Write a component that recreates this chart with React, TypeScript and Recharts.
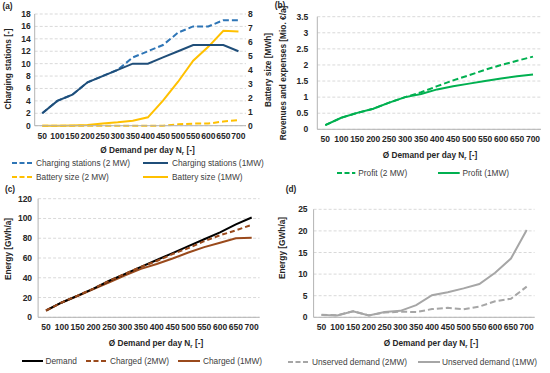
import React from 'react';
import { LineChart, Line, XAxis, YAxis, CartesianGrid } from 'recharts';

const demandPerDay = [50, 100, 150, 200, 250, 300, 350, 400, 450, 500, 550, 600, 650, 700];

const chargingStations2MW = [2, 4, 5, 7, 8, 9, 11, 12, 13, 15, 16, 16, 17, 17];
const chargingStations1MW = [2, 4, 5, 7, 8, 9, 10, 10, 11, 12, 13, 13, 13, 12];
const batterySize2MW = [0, 0, 0, 0, 0, 0, 0, 0, 0, 0.1, 0.15, 0.15, 0.3, 0.4];
const batterySize1MW = [0, 0, 0.02, 0.05, 0.15, 0.24, 0.36, 0.6, 1.8, 3.15, 4.65, 5.65, 6.8, 6.75];

const profit2MW = [0.13, 0.36, 0.51, 0.64, 0.83, 1.0, 1.15, 1.34, 1.52, 1.68, 1.85, 2.0, 2.13, 2.26];
const profit1MW = [0.13, 0.36, 0.51, 0.64, 0.83, 1.0, 1.1, 1.24, 1.34, 1.42, 1.5, 1.58, 1.65, 1.7];

const energyDemand = [7, 15, 22, 29, 37, 44, 51, 58, 65, 72, 79, 86, 94, 101];
const charged2MW = [7, 15, 22, 29, 37, 44, 51, 57, 64, 70, 77, 83, 88, 93.5];
const charged1MW = [6.5, 15, 21.5, 28.5, 35.5, 42.5, 49, 54, 59.5, 65.5, 71, 75.5, 80, 80.5];

const unserved2MW = [0.6, 0.45, 1.4, 0.45, 1.1, 1.3, 1.2, 1.9, 2.2, 1.85, 2.5, 3.7, 4.3, 7.1];
const unserved1MW = [0.55, 0.4, 1.4, 0.4, 1.2, 1.5, 2.8, 5.1, 5.8, 6.7, 7.7, 10.3, 13.6, 20.2];

const ticksA = [0, 2, 4, 6, 8, 10, 12, 14, 16, 18];
const ticksARight = [0, 1, 2, 3, 4, 5, 6, 7, 8];
const ticksB = [0, 0.5, 1, 1.5, 2, 2.5, 3, 3.5];
const ticksC = [0, 20, 40, 60, 80, 100, 120];
const ticksD = [0, 5, 10, 15, 20, 25];
const boundaryTicks = [0, 1, 2, 3, 4, 5, 6, 7, 8, 9, 10, 11, 12, 13, 14];

const dataA = demandPerDay.map((d, i) => ({ d, cs2: chargingStations2MW[i], cs1: chargingStations1MW[i], b2: batterySize2MW[i], b1: batterySize1MW[i] }));
const dataB = demandPerDay.map((d, i) => ({ d, p2: profit2MW[i], p1: profit1MW[i] }));
const dataC = demandPerDay.map((d, i) => ({ d, dem: energyDemand[i], c2: charged2MW[i], c1: charged1MW[i] }));
const dataD = demandPerDay.map((d, i) => ({ d, u2: unserved2MW[i], u1: unserved1MW[i] }));

const FONT = '"Liberation Sans", Arial, sans-serif';
const AXIS = '#b3b3b3';
const GRID = '#d9d9d9';
const tickStyle = { fontSize: 8.5, fontWeight: 700, fill: '#262626', fontFamily: FONT };

const fmt = (v: number) => String(v);

type BoxProps = { x: number; y: number; rotate?: boolean; children: React.ReactNode; bold?: boolean; color?: string; size?: number };
const Label = ({ x, y, rotate, children, bold = true, color = '#262626', size = 8.3 }: BoxProps) => (
  <div
    style={{
      position: 'absolute',
      left: x,
      top: y,
      transform: `translate(-50%, -50%)${rotate ? ' rotate(-90deg)' : ''}`,
      whiteSpace: 'nowrap',
      fontFamily: FONT,
      fontWeight: bold ? 700 : 400,
      fontSize: size,
      lineHeight: 1,
      color,
    }}
  >
    {children}
  </div>
);

const XTitle = ({ x, y }: { x: number; y: number }) => (
  <Label x={x} y={y}>
    Ø Demand per day N<span style={{ fontSize: '70%', position: 'relative', top: 2 }}>r</span> [-]
  </Label>
);

type LegProps = { x1: number; x2: number; tx: number; y: number; color: string; dash?: string; label: string };
const Leg = ({ x1, x2, tx, y, color, dash, label }: LegProps) => (
  <>
    <svg style={{ position: 'absolute', left: x1, top: y - 2, overflow: 'visible' }} width={x2 - x1} height={4}>
      <line x1={0} y1={2} x2={x2 - x1} y2={2} stroke={color} strokeWidth={2} strokeDasharray={dash} />
    </svg>
    <div
      style={{
        position: 'absolute',
        left: tx,
        top: y,
        transform: 'translateY(-50%)',
        fontFamily: FONT,
        fontSize: 8.3,
        lineHeight: 1,
        color: '#404040',
        whiteSpace: 'nowrap',
      }}
    >
      {label}
    </div>
  </>
);

const BoundaryAxis = () => null;

function catPad(plotWidth: number) {
  const p = plotWidth / 28;
  return { left: p, right: p };
}

export default function App() {
  const blueLight = '#2E75B6';
  const blueDark = '#1F4E79';
  const gold = '#FFC000';
  const green = '#00B050';
  const brown = '#9A4A1C';
  const gray = '#A6A6A6';

  return (
    <div style={{ position: 'absolute', left: 0, top: 0, width: 550, height: 373, background: '#fff', overflow: 'hidden' }}>
      {/* Panel A */}
      <div style={{ position: 'absolute', left: 0, top: 0 }}>
        <LineChart width={275} height={190} data={dataA} margin={{ top: 14, right: 0, bottom: 44.3, left: 0 }}>
          <CartesianGrid vertical={false} stroke={GRID} strokeDasharray="3 2" />
          <XAxis xAxisId="tk" type="number" domain={[0, 14]} allowDataOverflow ticks={boundaryTicks} tick={false} axisLine={false} tickSize={3} stroke={AXIS} height={0} />
          <XAxis dataKey="d" height={20} tickLine={false} tickSize={0} tickMargin={7} interval={0} stroke={AXIS} tick={tickStyle} padding={catPad(211.3)} />
          <YAxis width={34.7} domain={[0, 18]} ticks={ticksA} tickLine={false} tickSize={0} tickMargin={4} stroke={AXIS} tick={tickStyle} interval={0} />
          <YAxis yAxisId="r" orientation="right" width={29} domain={[0, 8]} ticks={ticksARight} tickLine={false} axisLine={false} tickSize={0} tickMargin={2} tick={tickStyle} interval={0} />
          <Line dataKey="b2" yAxisId="r" stroke={gold} strokeWidth={2} strokeDasharray="6 3" dot={false} isAnimationActive={false} />
          <Line dataKey="b1" yAxisId="r" stroke={gold} strokeWidth={2} dot={false} isAnimationActive={false} />
          <Line dataKey="cs2" stroke={blueLight} strokeWidth={2} strokeDasharray="6 3" dot={false} isAnimationActive={false} />
          <Line dataKey="cs1" stroke={blueDark} strokeWidth={2} dot={false} isAnimationActive={false} />
        </LineChart>
      </div>

      {/* Panel B */}
      <div style={{ position: 'absolute', left: 275, top: 0 }}>
        <LineChart width={275} height={190} data={dataB} margin={{ top: 16.7, right: 9, bottom: 40.7, left: 0 }}>
          <CartesianGrid vertical={false} stroke={GRID} strokeDasharray="3 2" />
          <XAxis xAxisId="tk" type="number" domain={[0, 14]} allowDataOverflow ticks={boundaryTicks} tick={false} axisLine={false} tickSize={3} stroke={AXIS} height={0} />
          <XAxis dataKey="d" height={20} tickLine={false} tickSize={0} tickMargin={7} interval={0} stroke={AXIS} tick={tickStyle} padding={catPad(223.7)} />
          <YAxis width={42.3} domain={[0, 3.5]} ticks={ticksB} tickFormatter={fmt} tickLine={false} tickSize={0} tickMargin={9} stroke={AXIS} tick={tickStyle} interval={0} />
          <Line dataKey="p2" stroke={green} strokeWidth={2} strokeDasharray="6 3" dot={false} isAnimationActive={false} />
          <Line dataKey="p1" stroke={green} strokeWidth={2} dot={false} isAnimationActive={false} />
        </LineChart>
      </div>

      {/* Panel C */}
      <div style={{ position: 'absolute', left: 0, top: 180 }}>
        <LineChart width={275} height={193} data={dataC} margin={{ top: 18.7, right: 15.4, bottom: 35.7, left: 0 }}>
          <CartesianGrid vertical={false} stroke={GRID} strokeDasharray="3 2" />
          <XAxis xAxisId="tk" type="number" domain={[0, 14]} allowDataOverflow ticks={boundaryTicks} tick={false} axisLine={false} tickSize={3} stroke={AXIS} height={0} />
          <XAxis dataKey="d" height={20} tickLine={false} tickSize={0} tickMargin={7} interval={0} stroke={AXIS} tick={tickStyle} padding={catPad(221.5)} />
          <YAxis width={38.1} domain={[0, 120]} ticks={ticksC} tickLine={false} tickSize={0} tickMargin={6} stroke={AXIS} tick={tickStyle} interval={0} />
          <Line dataKey="c1" stroke={brown} strokeWidth={2} dot={false} isAnimationActive={false} />
          <Line dataKey="dem" stroke="#000000" strokeWidth={2} dot={false} isAnimationActive={false} />
          <Line dataKey="c2" stroke={brown} strokeWidth={2} strokeDasharray="5 3" dot={false} isAnimationActive={false} />
        </LineChart>
      </div>

      {/* Panel D */}
      <div style={{ position: 'absolute', left: 275, top: 180 }}>
        <LineChart width={275} height={193} data={dataD} margin={{ top: 29.3, right: 15.4, bottom: 35.7, left: 0 }}>
          <CartesianGrid vertical={false} stroke={GRID} strokeDasharray="3 2" />
          <XAxis xAxisId="tk" type="number" domain={[0, 14]} allowDataOverflow ticks={boundaryTicks} tick={false} axisLine={false} tickSize={3} stroke={AXIS} height={0} />
          <XAxis dataKey="d" height={20} tickLine={false} tickSize={0} tickMargin={7} interval={0} stroke={AXIS} tick={tickStyle} padding={catPad(221)} />
          <YAxis width={38.6} domain={[0, 25]} ticks={ticksD} tickLine={false} tickSize={0} tickMargin={6} stroke={AXIS} tick={tickStyle} interval={0} />
          <Line dataKey="u2" stroke={gray} strokeWidth={2} strokeDasharray="6 3" dot={false} isAnimationActive={false} />
          <Line dataKey="u1" stroke={gray} strokeWidth={2} dot={false} isAnimationActive={false} />
        </LineChart>
      </div>

      {/* Panel labels */}
      <Label x={7.5} y={6}>(a)</Label>
      <Label x={280} y={5}>(b)</Label>
      <Label x={10} y={189}>(c)</Label>
      <Label x={291} y={189}>(d)</Label>

      {/* Axis titles */}
      <Label x={7.5} y={69} rotate>Charging stations [-]</Label>
      <Label x={268} y={70} rotate>Battery size [MWh]</Label>
      <Label x={283} y={73} rotate>Revenues and expenses [Mio. €/a]</Label>
      <Label x={7.5} y={249} rotate>Energy [GWh/a]</Label>
      <Label x={282} y={248} rotate>Energy [GWh/a]</Label>

      <XTitle x={147.5} y={150} />
      <XTitle x={430} y={155} />
      <XTitle x={156} y={342.7} />
      <XTitle x={431} y={342.7} />

      {/* Legends */}
      <Leg x1={11.7} x2={31.7} tx={36} y={163.3} color={blueLight} dash="5 2.5" label="Charging stations (2 MW)" />
      <Leg x1={143.3} x2={168.3} tx={172} y={163.3} color={blueDark} label="Charging stations (1MW)" />
      <Leg x1={11.7} x2={31.7} tx={36} y={176.7} color={gold} dash="5 2.5" label="Battery size (2 MW)" />
      <Leg x1={143.3} x2={168.3} tx={172} y={176.7} color={gold} label="Battery size (1MW)" />

      <Leg x1={336.7} x2={355} tx={358.3} y={173.3} color={green} dash="5 2.5" label="Profit (2 MW)" />
      <Leg x1={438.3} x2={460} tx={462.5} y={173.3} color={green} label="Profit (1MW)" />

      <Leg x1={22} x2={43} tx={45.5} y={361} color="#000000" label="Demand" />
      <Leg x1={86} x2={107} tx={110} y={361} color={brown} dash="5 2.5" label="Charged (2MW)" />
      <Leg x1={178} x2={200} tx={203} y={361} color={brown} label="Charged (1MW)" />

      <Leg x1={288} x2={310} tx={312} y={361.7} color={gray} dash="5 2.5" label="Unserved demand (2MW)" />
      <Leg x1={418} x2={440} tx={442} y={361.7} color={gray} label="Unserved demand (1MW)" />
    </div>
  );
}
